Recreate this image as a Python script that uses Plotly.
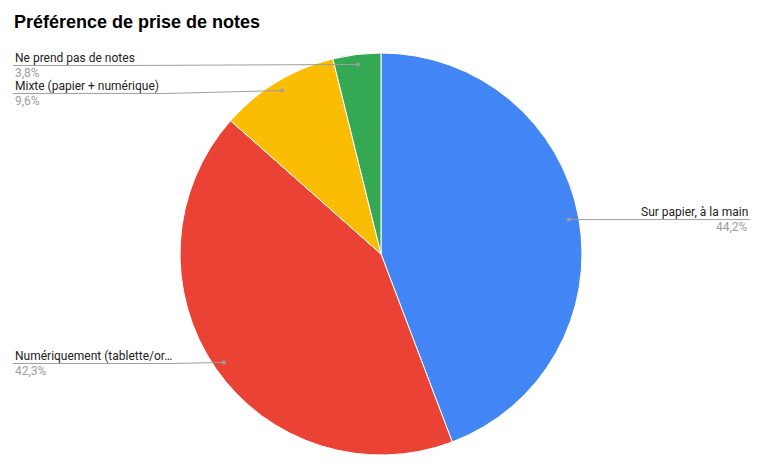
import numpy as np
import plotly.graph_objects as go

# reponses au sondage (nombre de personnes)
categories = ["Sur papier, à la main", "Numériquement (tablette/or…",
              "Mixte (papier + numérique)", "Ne prend pas de notes"]
counts = [23, 22, 5, 2]
colors = ["#4285F4", "#EA4335", "#FBBC04", "#34A853"]

W, H = 759, 472
cx, cy, R = 381, 254, 201

fig = go.Figure(go.Pie(
    labels=categories, values=counts, sort=False, direction="clockwise",
    rotation=0, textinfo="none", hoverinfo="skip",
    marker=dict(colors=colors, line=dict(color="white", width=1)),
    domain=dict(x=[(cx - R) / W, (cx + R) / W], y=[1 - (cy + R) / H, 1 - (cy - R) / H]),
    showlegend=False,
))

def px(x):
    return x / W

def py(y):
    return 1 - y / H

shapes, annotations = [], []
total = sum(counts)
shares = np.array(counts) / total
mids = (np.cumsum(shares) - shares / 2) * 2 * np.pi

# points d'ancrage des etiquettes, dans la part
items = []
for name, share, a in zip(categories, shares, mids):
    dotx = cx + 0.95 * R * np.sin(a)
    doty = cy - 0.95 * R * np.cos(a)
    pct = f"{share * 100:.1f}".replace(".", ",") + "%"
    items.append((name, pct, dotx, doty))

last_left = -100
for name, pct, dotx, doty in sorted(items, key=lambda t: t[3]):
    if dotx > cx:
        ly = doty
        path = f"M {px(dotx)} {py(doty)} L {px(750)} {py(ly)}"
        xa, anchor = px(750), "right"
    else:
        ly = max(doty + 1, last_left + 28)
        last_left = ly
        tw = len(name) * 5.9
        path = f"M {px(13)} {py(ly)} L {px(13 + tw)} {py(ly)} L {px(dotx)} {py(doty)}"
        xa, anchor = px(13), "left"
    shapes.append(dict(type="path", xref="paper", yref="paper", path=path,
                       line=dict(color="#9e9e9e", width=1)))
    shapes.append(dict(type="circle", xref="paper", yref="paper",
                       x0=px(dotx - 2), x1=px(dotx + 2), y0=py(doty + 2), y1=py(doty - 2),
                       fillcolor="#9e9e9e", line=dict(width=0)))
    annotations.append(dict(x=xa, y=py(ly - 7.5), xref="paper", yref="paper", text=name,
                            showarrow=False, xanchor=anchor, yanchor="middle",
                            font=dict(family="Roboto, Arial", size=12, color="#222222")))
    annotations.append(dict(x=xa, y=py(ly + 7.5), xref="paper", yref="paper", text=pct,
                            showarrow=False, xanchor=anchor, yanchor="middle",
                            font=dict(family="Roboto, Arial", size=12, color="#9e9e9e")))

annotations.append(dict(x=px(12), y=py(10), xref="paper", yref="paper",
                        text="<b>Préférence de prise de notes</b>", showarrow=False,
                        xanchor="left", yanchor="top",
                        font=dict(family="Liberation Sans, Arial", size=18, color="#000000")))

fig.update_layout(width=W, height=H, margin=dict(l=0, r=0, t=0, b=0),
                  paper_bgcolor="white", plot_bgcolor="white",
                  shapes=shapes, annotations=annotations)

fig.write_html("out.html", config={"displayModeBar": False},
               post_script="document.body.style.margin='0';")
